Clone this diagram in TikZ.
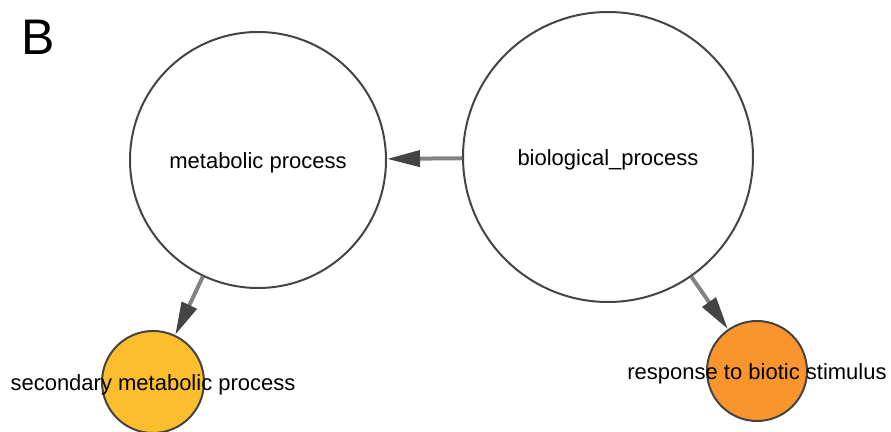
\documentclass[tikz,border=0pt]{standalone}
\usepackage{fontspec}
\setmainfont{Liberation Sans}
\usepackage{tikz}
\usepackage{xcolor}
\usetikzlibrary{arrows.meta}

\definecolor{termyellow}{RGB}{253,190,45}
\definecolor{termorange}{RGB}{250,149,45}
\definecolor{rim}{RGB}{68,68,68}
\definecolor{edgegrey}{RGB}{130,130,130}

\begin{document}
\begin{tikzpicture}[x=0.5pt,y=-0.5pt,
  term/.style={circle,draw=rim,line width=1pt,fill=white,inner sep=0pt},
  txt/.style={font=\fontsize{11}{13}\selectfont,inner sep=0pt,yshift=-1.5pt},
  isa/.style={draw=edgegrey,line width=2pt,-{Triangle[length=16.5pt,width=8pt,color=rim]}}]
\useasboundingbox (0,0) rectangle (891,432);
\node [font=\fontsize{25}{30}\selectfont,inner sep=0pt] (panel) at (38.5,37) {B};
% GO terms
\node [term,minimum size=145pt] (bio) at (608,157) {};
\node [term,minimum size=128pt] (meta) at (258,160) {};
\node [term,minimum size=51pt,fill=termyellow] (sec) at (153,382) {};
\node [term,minimum size=50pt,fill=termorange] (resp) at (757,371) {};
\node [txt] (biolab) at (bio) {biological\_process};
\node [txt] (metalab) at (meta) {metabolic process};
\node [txt] (seclab) at (sec) {secondary metabolic process};
\node [txt] (resplab) at (resp) {response to biotic stimulus};
% is_a edges
\draw [isa] (bio) -- (meta);
\draw [isa] (meta) -- (sec);
\draw [isa] (bio) -- (resp);
\end{tikzpicture}
\end{document}
